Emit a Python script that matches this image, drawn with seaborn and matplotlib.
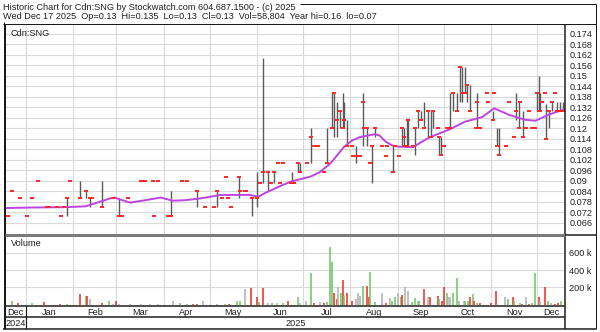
import numpy as np
import pandas as pd
import matplotlib
matplotlib.use("Agg")
import matplotlib.pyplot as plt
import seaborn as sns

sns.set_style("white")
plt.rcParams["font.family"] = ["Liberation Sans", "DejaVu Sans"]

# ---------------- data (day = days since 2025-01-01) ----------------
p_day = [-12, -9, -4, 1, 4, 8, 14, 15, 20, 23, 25, 27, 29, 35, 39, 42, 43, 50, 57, 61,
         63, 67, 75, 78, 83, 84, 86, 93, 95, 102, 105, 112, 117, 123, 125, 128, 131, 132, 134, 139,
         140, 143, 144, 148, 151, 153, 155, 158, 160, 162, 165, 166, 168, 173, 174, 175, 178, 179, 184, 186,
         188, 190, 191, 195, 197, 200, 201, 203, 205, 207, 208, 210, 213, 214, 216, 218, 220, 221, 223, 225,
         226, 228, 233, 235, 236, 240, 241, 244, 246, 247, 248, 249, 250, 253, 254, 256, 258, 260, 263, 265,
         266, 269, 270, 271, 273, 275, 277, 279, 282, 284, 285, 287, 288, 290, 294, 295, 297, 301, 302, 305,
         306, 308, 309, 314, 316, 319, 320, 322, 323, 325, 327, 329, 331, 333, 334, 335, 336, 337, 339, 340,
         342, 344, 346, 347, 349, 351]
p_high = [.07, .084, .08, .07, .08, .09, .075, .075, .075, .07, .075, .08, .09, .09, .084, .08, .08, .09, .08, .08,
          .07, .08, .09, .09, .09, .07, .09, .07, .084, .09, .09, .084, .075, .075, .084, .08, .092, .08, .075, .092,
          .084, .084, .084, .08, .095, .089, .16, .095, .089, .095, .1, .089, .1, .089, .095, .089, .1, .1, .1, .12,
          .11, .11, .11, .095, .12, .14, .14, .135, .13, .14, .135, .125, .11, .104, .11, .104, .14, .12, .12, .1,
          .11, .12, .11, .104, .11, .11, .11, .104, .12, .12, .11, .125, .125, .11, .12, .13, .13, .135, .13, .13,
          .13, .12, .115, .115, .11, .12, .14, .14, .14, .155, .155, .155, .145, .145, .12, .14, .12, .14, .135, .13,
          .14, .12, .12, .11, .135, .115, .14, .135, .135, .13, .12, .13, .12, .12, .14, .15, .14, .135, .14, .134,
          .13, .135, .14, .135, .135, .135]
p_low = [.07, .084, .08, .07, .08, .09, .075, .075, .075, .07, .075, .07, .09, .08, .08, .075, .08, .075, .08, .07,
         .07, .08, .09, .09, .09, .07, .09, .07, .07, .09, .09, .075, .075, .075, .075, .08, .092, .08, .075, .08,
         .084, .084, .084, .07, .075, .089, .089, .084, .089, .089, .1, .089, .1, .089, .089, .089, .095, .095, .1, .1,
         .11, .11, .11, .095, .1, .12, .115, .115, .12, .12, .12, .11, .11, .104, .1, .104, .11, .12, .11, .1,
         .089, .115, .11, .104, .11, .095, .11, .104, .11, .11, .11, .11, .11, .11, .105, .12, .125, .12, .115, .115,
         .12, .12, .105, .105, .11, .12, .12, .13, .13, .135, .135, .14, .135, .13, .12, .12, .12, .14, .135, .125,
         .14, .11, .105, .11, .135, .115, .125, .12, .135, .115, .12, .13, .12, .12, .13, .13, .13, .135, .14, .114,
         .12, .13, .14, .13, .13, .13]
p_close = [.07, .084, .08, .07, .08, .09, .075, .075, .075, .07, .075, .08, .09, .08, .084, .08, .08, .075, .08, .07,
           .07, .08, .09, .09, .09, .07, .09, .07, .07, .09, .09, .084, .075, .075, .084, .08, .092, .08, .075, .092,
           .084, .084, .084, .08, .08, .089, .095, .095, .089, .095, .1, .089, .1, .089, .089, .089, .1, .095, .1, .115,
           .11, .11, .11, .095, .1, .12, .14, .125, .13, .12, .125, .11, .11, .104, .104, .104, .135, .12, .12, .1,
           .11, .12, .11, .104, .11, .095, .11, .104, .12, .115, .11, .11, .125, .11, .12, .13, .125, .12, .13, .115,
           .13, .12, .115, .105, .11, .12, .12, .14, .13, .155, .14, .14, .145, .13, .12, .135, .12, .14, .135, .125,
           .14, .11, .105, .11, .135, .115, .13, .12, .135, .115, .12, .13, .12, .12, .14, .13, .13, .135, .14, .114,
           .13, .135, .14, .13, .13, .13]

ma_day = [-14, 3, 25, 39, 48, 55, 58, 63, 68, 78, 88, 96, 104, 114, 122, 127, 146, 152, 156, 166,
          173, 186, 192, 199, 208, 213, 218, 228, 231, 235, 240, 244, 253, 258, 264, 277, 287, 298, 306, 316,
          326, 333, 342, 352]
ma_val = [.0745, .0748, .075, .0755, .078, .08, .0805, .079, .0776, .079, .0805, .0787, .079, .08, .0812, .082, .082, .081, .083, .087,
          .0896, .0925, .095, .1, .1096, .113, .115, .1167, .116, .1125, .11, .1096, .1093, .112, .115, .1195, .1239, .1264, .1315, .1277,
          .125, .1244, .128, .131]

v_day = [-9, -5, 4, 12, 22, 27, 35, 39, 40, 42, 50, 54, 57, 59, 61, 68, 75, 81, 86, 96,
         101, 105, 109, 112, 116, 125, 130, 133, 138, 140, 143, 147, 151, 152, 155, 158, 161, 164, 168, 171,
         178, 179, 183, 186, 188, 192, 195, 197, 199, 200, 201, 203, 204, 206, 207, 208, 210, 213, 216, 217,
         218, 220, 223, 224, 225, 228, 233, 235, 238, 239, 241, 243, 245, 246, 248, 250, 252, 254, 256, 257,
         260, 263, 264, 269, 270, 272, 273, 275, 276, 277, 279, 282, 283, 286, 287, 289, 290, 292, 293, 295,
         297, 304, 307, 308, 313, 315, 318, 319, 323, 324, 327, 329, 331, 333, 335, 336, 339, 341, 343, 346,
         348, 350]
v_k = [45, 15, 15, 30, 10, 10, 119, 97, 97, 70, 20, 45, 10, 40, 10, 8, 8, 8, 8, 40,
       15, 10, 10, 12, 40, 12, 12, 10, 40, 40, 177, 195, 85, 30, 195, 20, 20, 15, 20, 40,
       85, 15, 40, 369, 15, 25, 15, 25, 662, 496, 138, 66, 200, 130, 284, 100, 135, 40, 70, 130,
       100, 215, 215, 85, 380, 30, 140, 15, 73, 40, 85, 140, 85, 110, 200, 160, 30, 73, 40, 45,
       177, 85, 85, 97, 60, 40, 200, 130, 85, 85, 135, 304, 45, 45, 40, 40, 85, 125, 45, 20,
       15, 20, 155, 10, 85, 60, 85, 45, 15, 10, 85, 10, 15, 361, 85, 40, 200, 40, 15, 10,
       20, 45]
v_dir = list("grgrrgrgrn" "rgnrnnnnnn" "gnrrnggrgg" "nrrgrngngr" "gnngrnrggg"
             "rrngrgrrnn" "ngrrggnrng" "gngrnnggng" "rnrrgrrgnn" "ggnnggrgrg"
             "rrrnngrggr" "nrggrnrgnr" "rg")

price_ticks = [0.174, 0.168, 0.162, 0.156, 0.15, 0.144, 0.138, 0.132, 0.126, 0.12,
               0.114, 0.108, 0.102, 0.096, 0.09, 0.084, 0.078, 0.072, 0.066]
price_labels = ["0.174", "0.168", "0.162", "0.156", "0.15", "0.144", "0.138", "0.132", "0.126", "0.12",
                "0.114", "0.108", "0.102", "0.096", "0.09", "0.084", "0.078", "0.072", "0.066"]
vol_ticks = [200000, 400000, 600000]
vol_labels = ["200 k", "400 k", "600 k"]
month_names = ["Dec", "Jan", "Feb", "Mar", "Apr", "May", "Jun", "Jul", "Aug", "Sep", "Oct", "Nov", "Dec"]
title1 = "Historic Chart for Cdn:SNG by Stockwatch.com 604.687.1500 - (c) 2025"
title2 = "Wed Dec 17 2025  Op=0.13  Hi=0.135  Lo=0.13  Cl=0.13  Vol=58,804  Year hi=0.16  lo=0.07"

# ---------------- layout ----------------
W, H = 600, 332
fig = plt.figure(figsize=(6, 3.32), dpi=100)
fig.patch.set_facecolor("white")


def rect(x0, y0, x1, y1):
    return [x0 / W, 1 - y1 / H, (x1 - x0) / W, (y1 - y0) / H]


XMIN, XMAX = -13.7, 352.3
base = pd.Timestamp("2025-01-01")
mstarts = [(pd.Timestamp(2024, 12, 1) + pd.DateOffset(months=i) - base).days for i in range(14)]
grid_x = mstarts[1:13]
GRID = "#d9d9d9"
FS = 6.6
TXT = "#202020"

# price panel
ax = fig.add_axes(rect(5, 24, 565, 235))
ax.set_xlim(XMIN, XMAX)
ax.set_ylim(0.0591, 0.1797)
ax.set_xticks(grid_x)
ax.set_xticklabels([])
ax.set_yticks(price_ticks)
ax.set_yticklabels(price_labels)
ax.yaxis.tick_right()
ax.tick_params(axis="y", length=0, pad=3, labelsize=FS, labelcolor=TXT)
ax.tick_params(axis="x", length=0)
ax.grid(True, color=GRID, lw=0.8)
ax.set_axisbelow(True)
for s in ax.spines.values():
    s.set_visible(False)

pdf = pd.DataFrame({"day": p_day, "high": p_high, "low": p_low, "close": p_close})
ax.vlines(pdf["day"], pdf["low"], pdf["high"], color="#5a5a5a", lw=1.0, zorder=2)
sns.lineplot(x=ma_day, y=ma_val, ax=ax, color="#bd45e0", lw=1.4, zorder=3)
sns.scatterplot(data=pdf, x="day", y="close", ax=ax, marker="_", s=5, color="#ff2626",
                linewidth=1.4, zorder=4, legend=False)
ax.set_xlabel("")
ax.set_ylabel("")
ax.text(0.01, 0.955, "Cdn:SNG", transform=ax.transAxes, fontsize=FS, color=TXT, va="center")

# volume panel
axv = fig.add_axes(rect(5, 236, 565, 306))
axv.set_xlim(XMIN, XMAX)
axv.set_ylim(-16000, 795000)
axv.set_xticks(grid_x)
axv.set_xticklabels([])
axv.set_yticks(vol_ticks)
axv.set_yticklabels(vol_labels)
axv.yaxis.tick_right()
axv.tick_params(axis="y", length=0, pad=3, labelsize=FS, labelcolor=TXT)
axv.tick_params(axis="x", length=0)
axv.grid(True, color=GRID, lw=0.8)
axv.set_axisbelow(True)
for s in axv.spines.values():
    s.set_visible(False)
vcol = {"r": "#f03a30", "g": "#76c86e", "n": "#b4b4b4"}
vdf = pd.DataFrame({"day": v_day, "vol": [v * 1000 for v in v_k], "dir": v_dir})
axv.vlines(vdf["day"], 0, vdf["vol"], colors=[vcol[d] for d in vdf["dir"]], lw=1.2, zorder=2)
axv.text(0.01, 0.9, "Volume", transform=axv.transAxes, fontsize=FS, color=TXT, va="center")

# month row
axm = fig.add_axes(rect(5, 306, 565, 317))
axm.set_xlim(XMIN, XMAX)
axm.set_ylim(0, 1)
axm.axis("off")
for i, name in enumerate(month_names):
    a = max(mstarts[i], XMIN)
    b = min(mstarts[i + 1], XMAX)
    axm.text((a + b) / 2, 0.45, name, ha="center", va="center", fontsize=FS, color=TXT)

# year row
axy = fig.add_axes(rect(5, 317, 565, 328))
axy.set_xlim(XMIN, XMAX)
axy.set_ylim(0, 1)
axy.axis("off")
axy.text((XMIN + 0) / 2, 0.45, "2024", ha="center", va="center", fontsize=FS, color=TXT)
axy.text((0 + XMAX) / 2, 0.45, "2025", ha="center", va="center", fontsize=FS, color=TXT)

# frame overlay (pixel coordinates)
axo = fig.add_axes([0, 0, 1, 1], zorder=10)
axo.set_xlim(0, W)
axo.set_ylim(H, 0)
axo.axis("off")
axo.patch.set_alpha(0)
px = 0.72


def seg(x0, y0, x1, y1, c="#1a1a1a", w=1.0):
    axo.plot([x0, x1], [y0, y1], color=c, lw=w * px, solid_capstyle="butt")


seg(3.5, 22, 3.5, 328.5)
seg(596, 3.5, 596, 328.5)
seg(300, 3.5, 596, 3.5)
seg(3, 23.5, 596, 23.5)
seg(3, 328.5, 596, 328.5, w=1.5)
seg(5, 23.5, 5, 328.5, w=2)
seg(564.5, 23.5, 564.5, 328.5, w=1.5)
seg(5, 235, 564.5, 235, c="#7a7a7a", w=3)
seg(564.5, 235, 596, 235, w=1.5)
seg(5, 306, 564.5, 306, w=1.5)
seg(5, 317, 564.5, 317, w=1.5)
jan_x = 5 + (0 - XMIN) / (XMAX - XMIN) * 560
seg(jan_x, 306, jan_x, 328.5, w=1.2)

axo.text(3, 7.5, title1, fontsize=FS, color=TXT, va="center", ha="left")
axo.text(3, 16.5, title2, fontsize=FS, color=TXT, va="center", ha="left")

fig.savefig("out.png", dpi=100, facecolor="white")
